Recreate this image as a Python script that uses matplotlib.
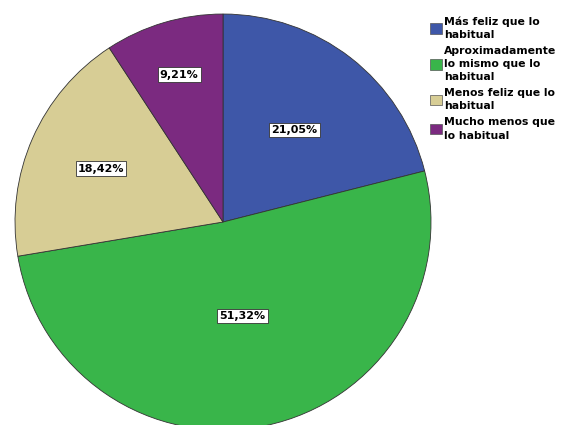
import matplotlib.pyplot as plt
from matplotlib.patches import Patch
import numpy as np

# data
categories = ['Más feliz que lo\nhabitual', 'Aproximadamente\nlo mismo que lo\nhabitual',
              'Menos feliz que lo\nhabitual', 'Mucho menos que\nlo habitual']
values = [21.05, 51.32, 18.42, 9.21]
colors = ['#3e57a8', '#39b54a', '#d7cd95', '#7b2a80']
label_dist = [0.56, 0.46, 0.64, 0.74]

fig = plt.figure(figsize=(5.64, 4.25), dpi=100)
ax = fig.add_axes([0.0266, -0.0118, 0.7376, 0.9788])

wedges, _ = ax.pie(values, colors=colors, startangle=90, counterclock=False,
                   radius=1, wedgeprops=dict(edgecolor='#333333', linewidth=0.6))
ax.set_xlim(-1, 1)
ax.set_ylim(-1, 1)
ax.set_aspect('equal')

# percentage labels in white boxes
for w, v, d in zip(wedges, values, label_dist):
    ang = np.deg2rad((w.theta1 + w.theta2) / 2)
    ax.text(d * np.cos(ang), d * np.sin(ang), f'{v:.2f}%'.replace('.', ','),
            ha='center', va='center', fontsize=8, fontweight='bold',
            bbox=dict(facecolor='white', edgecolor='#333333', linewidth=0.6, pad=1.5))

handles = [Patch(facecolor=c, edgecolor='#555555', linewidth=0.5) for c in colors]
leg = fig.legend(handles, categories, loc='upper left', bbox_to_anchor=(0.762, 0.962),
                 frameon=False, prop={'weight': 'bold', 'size': 7.8},
                 handlelength=1.1, handleheight=1.1, handletextpad=0.2,
                 labelspacing=0.55, borderaxespad=0, borderpad=0)
for t in leg.get_texts():
    t.set_linespacing(1.4)

fig.savefig('out.png', dpi=100)
